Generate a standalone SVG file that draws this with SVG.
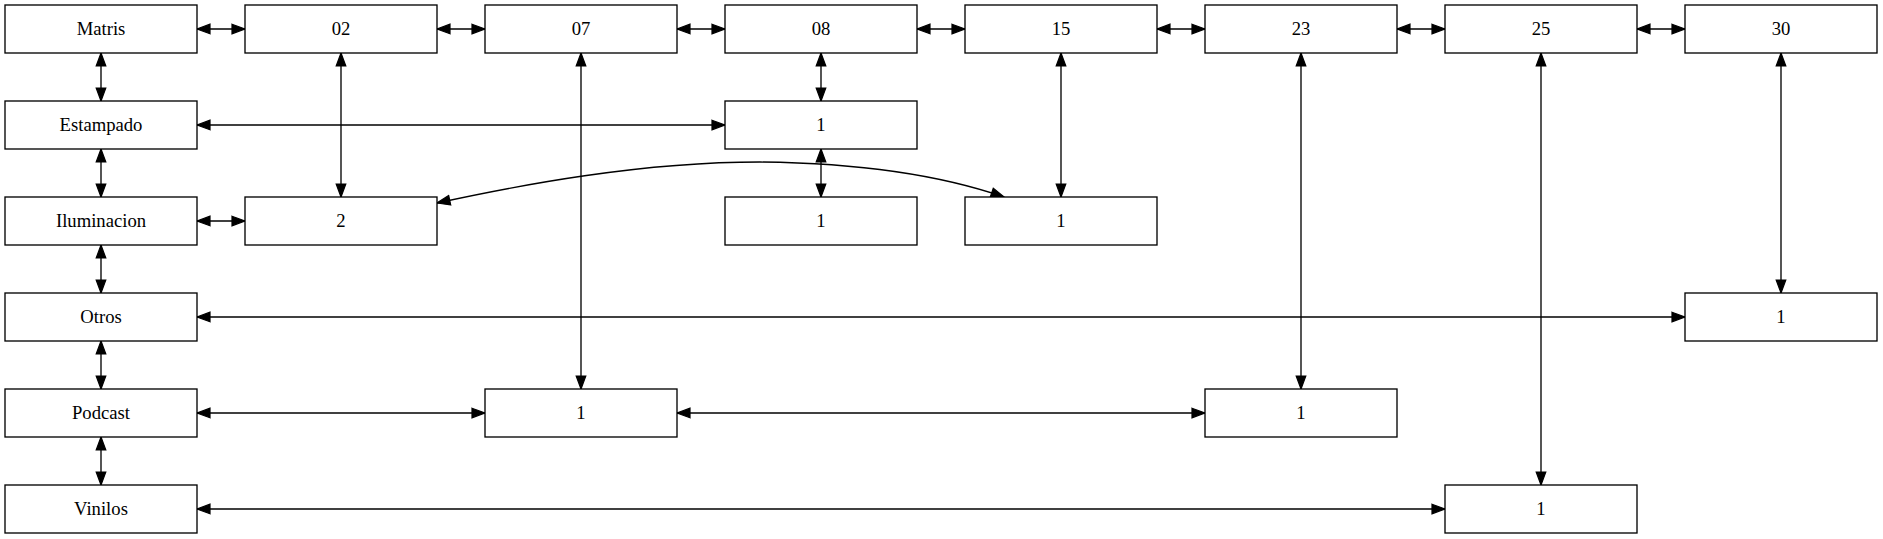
<svg xmlns="http://www.w3.org/2000/svg" width="1883" height="539" viewBox="0 0 1883 539">
<style>
.n rect{fill:#fff;stroke:#000;stroke-width:1.33}
.n text{font-family:"Liberation Serif","Times New Roman",serif;font-size:18.67px;text-anchor:middle;fill:#000}
.e path{fill:none;stroke:#000;stroke-width:1.33;marker-start:url(#a);marker-end:url(#a)}
</style>
<defs>
<marker id="a" markerUnits="userSpaceOnUse" markerWidth="16" markerHeight="12" viewBox="0 0 16 12" refX="14" refY="6" orient="auto-start-reverse">
<path d="M1,1.2 L14,6 L1,10.8 Z" fill="#000" stroke="#000" stroke-width="1.2"/>
</marker>
</defs>
<rect width="1883" height="539" fill="#fff"/>
<g id="edges" class="e">
<path d="M197,29 H245"/>
<path d="M437,29 H485"/>
<path d="M677,29 H725"/>
<path d="M917,29 H965"/>
<path d="M1157,29 H1205"/>
<path d="M1397,29 H1445"/>
<path d="M1637,29 H1685"/>
<path d="M101,53 V101"/>
<path d="M101,149 V197"/>
<path d="M101,245 V293"/>
<path d="M101,341 V389"/>
<path d="M101,437 V485"/>
<path d="M341,53 V197"/>
<path d="M581,53 V389"/>
<path d="M821,53 V101"/>
<path d="M821,149 V197"/>
<path d="M1061,53 V197"/>
<path d="M1301,53 V389"/>
<path d="M1541,53 V485"/>
<path d="M1781,53 V293"/>
<path d="M197,125 H725"/>
<path d="M197,221 H245"/>
<path d="M197,317 H1685"/>
<path d="M197,413 H485"/>
<path d="M677,413 H1205"/>
<path d="M197,509 H1445"/>
<path d="M437,203 C520,185 640,162 760,162 C860,163 940,175 1004,197"/>
</g>
<g id="n_matris" class="n"><rect x="5" y="5" width="192" height="48"/><text x="101" y="34.6">Matris</text></g>
<g id="n_02" class="n"><rect x="245" y="5" width="192" height="48"/><text x="341" y="34.6">02</text></g>
<g id="n_07" class="n"><rect x="485" y="5" width="192" height="48"/><text x="581" y="34.6">07</text></g>
<g id="n_08" class="n"><rect x="725" y="5" width="192" height="48"/><text x="821" y="34.6">08</text></g>
<g id="n_15" class="n"><rect x="965" y="5" width="192" height="48"/><text x="1061" y="34.6">15</text></g>
<g id="n_23" class="n"><rect x="1205" y="5" width="192" height="48"/><text x="1301" y="34.6">23</text></g>
<g id="n_25" class="n"><rect x="1445" y="5" width="192" height="48"/><text x="1541" y="34.6">25</text></g>
<g id="n_30" class="n"><rect x="1685" y="5" width="192" height="48"/><text x="1781" y="34.6">30</text></g>
<g id="n_estampado" class="n"><rect x="5" y="101" width="192" height="48"/><text x="101" y="130.6">Estampado</text></g>
<g id="n_estampado_08" class="n"><rect x="725" y="101" width="192" height="48"/><text x="821" y="130.6">1</text></g>
<g id="n_iluminacion" class="n"><rect x="5" y="197" width="192" height="48"/><text x="101" y="226.6">Iluminacion</text></g>
<g id="n_ilum_02" class="n"><rect x="245" y="197" width="192" height="48"/><text x="341" y="226.6">2</text></g>
<g id="n_ilum_08" class="n"><rect x="725" y="197" width="192" height="48"/><text x="821" y="226.6">1</text></g>
<g id="n_ilum_15" class="n"><rect x="965" y="197" width="192" height="48"/><text x="1061" y="226.6">1</text></g>
<g id="n_otros" class="n"><rect x="5" y="293" width="192" height="48"/><text x="101" y="322.6">Otros</text></g>
<g id="n_otros_30" class="n"><rect x="1685" y="293" width="192" height="48"/><text x="1781" y="322.6">1</text></g>
<g id="n_podcast" class="n"><rect x="5" y="389" width="192" height="48"/><text x="101" y="418.6">Podcast</text></g>
<g id="n_podcast_07" class="n"><rect x="485" y="389" width="192" height="48"/><text x="581" y="418.6">1</text></g>
<g id="n_podcast_23" class="n"><rect x="1205" y="389" width="192" height="48"/><text x="1301" y="418.6">1</text></g>
<g id="n_vinilos" class="n"><rect x="5" y="485" width="192" height="48"/><text x="101" y="514.6">Vinilos</text></g>
<g id="n_vinilos_25" class="n"><rect x="1445" y="485" width="192" height="48"/><text x="1541" y="514.6">1</text></g>
</svg>
